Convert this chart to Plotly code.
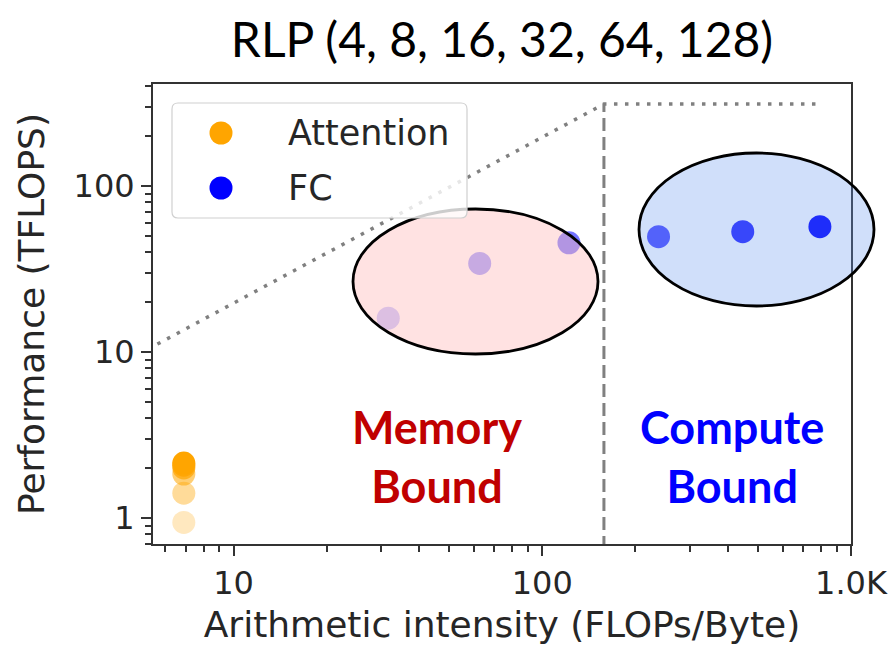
import plotly.graph_objects as go

# ---------------- data ----------------
BATCH = [4, 8, 16, 32, 64, 128]
ALPHA = [0.25, 0.4, 0.55, 0.7, 0.85, 1.0]
ATTN_AI = [6.9, 6.9, 6.9, 6.9, 6.9, 6.9]
ATTN_PERF = [0.94, 1.41, 1.84, 2.0, 2.08, 2.14]
FC_AI = [31.7, 62.7, 122, 238, 446, 793]
FC_PERF = [16.0, 34.2, 45.5, 49.5, 53.1, 56.9]
PEAK = 312.0          # TFLOPS
BW = 1.97             # TB/s
ROOF_X = [1, PEAK / BW, 800]
ROOF_Y = [BW * 1, PEAK, PEAK]
RIDGE_X = [PEAK / BW, PEAK / BW]
RIDGE_Y = [0.5, PEAK]
X_TICKS = [10, 100, 1000]
X_TICKTEXT = ["10", "100", "1.0K"]
Y_TICKS = [1, 10, 100]
Y_TICKTEXT = ["1", "10", "100"]
X_RANGE_LOG = [0.739, 3.0]
Y_RANGE_LOG = [-0.157, 2.615]

# ---------------- layout geometry ----------------
W, H = 894, 646
L, R, T, B = 153, 43, 84, 102
PW, PH = W - L - R, H - T - B


def px(x):
    return (x - L) / PW


def py(y):
    return (H - B - y) / PH


def rounded_rect_path(x0, y0, x1, y1, r):
    # pixel coords (y downwards) -> paper path with rounded corners
    P = lambda x, y: f"{px(x):.5f},{py(y):.5f}"
    return (f"M {P(x0 + r, y0)} L {P(x1 - r, y0)} Q {P(x1, y0)} {P(x1, y0 + r)} "
            f"L {P(x1, y1 - r)} Q {P(x1, y1)} {P(x1 - r, y1)} "
            f"L {P(x0 + r, y1)} Q {P(x0, y1)} {P(x0, y1 - r)} "
            f"L {P(x0, y0 + r)} Q {P(x0, y0)} {P(x0 + r, y0)} Z")


TXT = "#262626"
fig = go.Figure()

fig.add_trace(go.Scatter(x=ROOF_X, y=ROOF_Y, mode="lines",
                         line=dict(color="#808080", width=3.5, dash="3.5px,7.5px"),
                         showlegend=False, hoverinfo="skip"))
fig.add_trace(go.Scatter(x=RIDGE_X, y=RIDGE_Y, mode="lines",
                         line=dict(color="#808080", width=3, dash="13px,6px"),
                         showlegend=False, hoverinfo="skip"))
fig.add_trace(go.Scatter(x=ATTN_AI, y=ATTN_PERF, mode="markers", name="Attention",
                         marker=dict(color="orange", size=23, opacity=ALPHA, line=dict(width=0)),
                         text=[f"batch {b}" for b in BATCH], showlegend=False))
fig.add_trace(go.Scatter(x=FC_AI, y=FC_PERF, mode="markers", name="FC",
                         marker=dict(color="blue", size=23, opacity=ALPHA, line=dict(width=0)),
                         text=[f"batch {b}" for b in BATCH], showlegend=False))

shapes = []
# ellipses (annotation shapes, paper coordinates)
shapes.append(dict(type="circle", xref="paper", yref="paper", layer="above",
                   x0=px(353), x1=px(598), y0=py(354), y1=py(209),
                   fillcolor="rgba(255,190,190,0.45)", line=dict(color="black", width=2.8)))
shapes.append(dict(type="circle", xref="paper", yref="paper", layer="above",
                   x0=px(639), x1=px(874), y0=py(306), y1=py(153),
                   fillcolor="rgba(100,149,237,0.3)", line=dict(color="black", width=2.8)))
# legend box
shapes.append(dict(type="path", xref="paper", yref="paper", layer="above",
                   path=rounded_rect_path(172, 103, 467, 218, 6),
                   fillcolor="rgba(255,255,255,0.8)", line=dict(color="#d0d0d0", width=1.2)))
for cy, col in [(133, "orange"), (188, "blue")]:
    r = 11.5
    shapes.append(dict(type="circle", xref="paper", yref="paper", layer="above",
                       x0=px(221 - r), x1=px(221 + r), y0=py(cy + r), y1=py(cy - r),
                       fillcolor=col, line=dict(width=0)))

annotations = [
    dict(text="Attention", xref="paper", yref="paper", x=px(286), y=py(133),
         xanchor="left", yanchor="middle", showarrow=False,
         font=dict(family="DejaVu Sans", size=35, color=TXT)),
    dict(text="FC", xref="paper", yref="paper", x=px(286), y=py(188),
         xanchor="left", yanchor="middle", showarrow=False,
         font=dict(family="DejaVu Sans", size=35, color=TXT)),
    dict(text="Memory<br>Bound", xref="paper", yref="paper", x=px(437), y=py(456),
         xanchor="center", yanchor="middle", showarrow=False,
         font=dict(family="Lato", size=45, color="#C00000", weight="bold")),
    dict(text="Compute<br>Bound", xref="paper", yref="paper", x=px(732), y=py(456),
         xanchor="center", yanchor="middle", showarrow=False,
         font=dict(family="Lato", size=45, color="#0000FF", weight="bold")),
]

axis_common = dict(type="log", showgrid=False, zeroline=False, showline=True,
                   linecolor="#333333", linewidth=2, mirror=True,
                   ticks="outside", ticklen=10, tickwidth=2, tickcolor="#333333",
                   tickfont=dict(family="DejaVu Sans", size=32, color=TXT),
                   automargin=False,
                   minor=dict(ticks="outside", ticklen=6, tickwidth=1.5,
                              tickcolor="#333333", dtick="D1", showgrid=False))

fig.update_layout(
    width=W, height=H,
    margin=dict(l=L, r=R, t=T, b=B),
    paper_bgcolor="white", plot_bgcolor="white",
    showlegend=False,
    title=dict(text="RLP (4, 8, 16, 32, 64, 128)", xref="paper", x=0.5, xanchor="center",
               yref="container", y=1 - 40 / H, yanchor="middle",
               font=dict(family="Lato", size=48, color="black")),
    xaxis=dict(axis_common, range=X_RANGE_LOG, tickmode="array",
               tickvals=X_TICKS, ticktext=X_TICKTEXT,
               title=dict(text="Arithmetic intensity (FLOPs/Byte)", standoff=10,
                          font=dict(family="DejaVu Sans", size=36, color=TXT))),
    yaxis=dict(axis_common, range=Y_RANGE_LOG, tickmode="array",
               tickvals=Y_TICKS, ticktext=Y_TICKTEXT,
               title=dict(text="Performance (TFLOPS)", standoff=18,
                          font=dict(family="DejaVu Sans", size=36, color=TXT))),
    shapes=shapes,
    annotations=annotations,
)

fig.write_html("out.html")
